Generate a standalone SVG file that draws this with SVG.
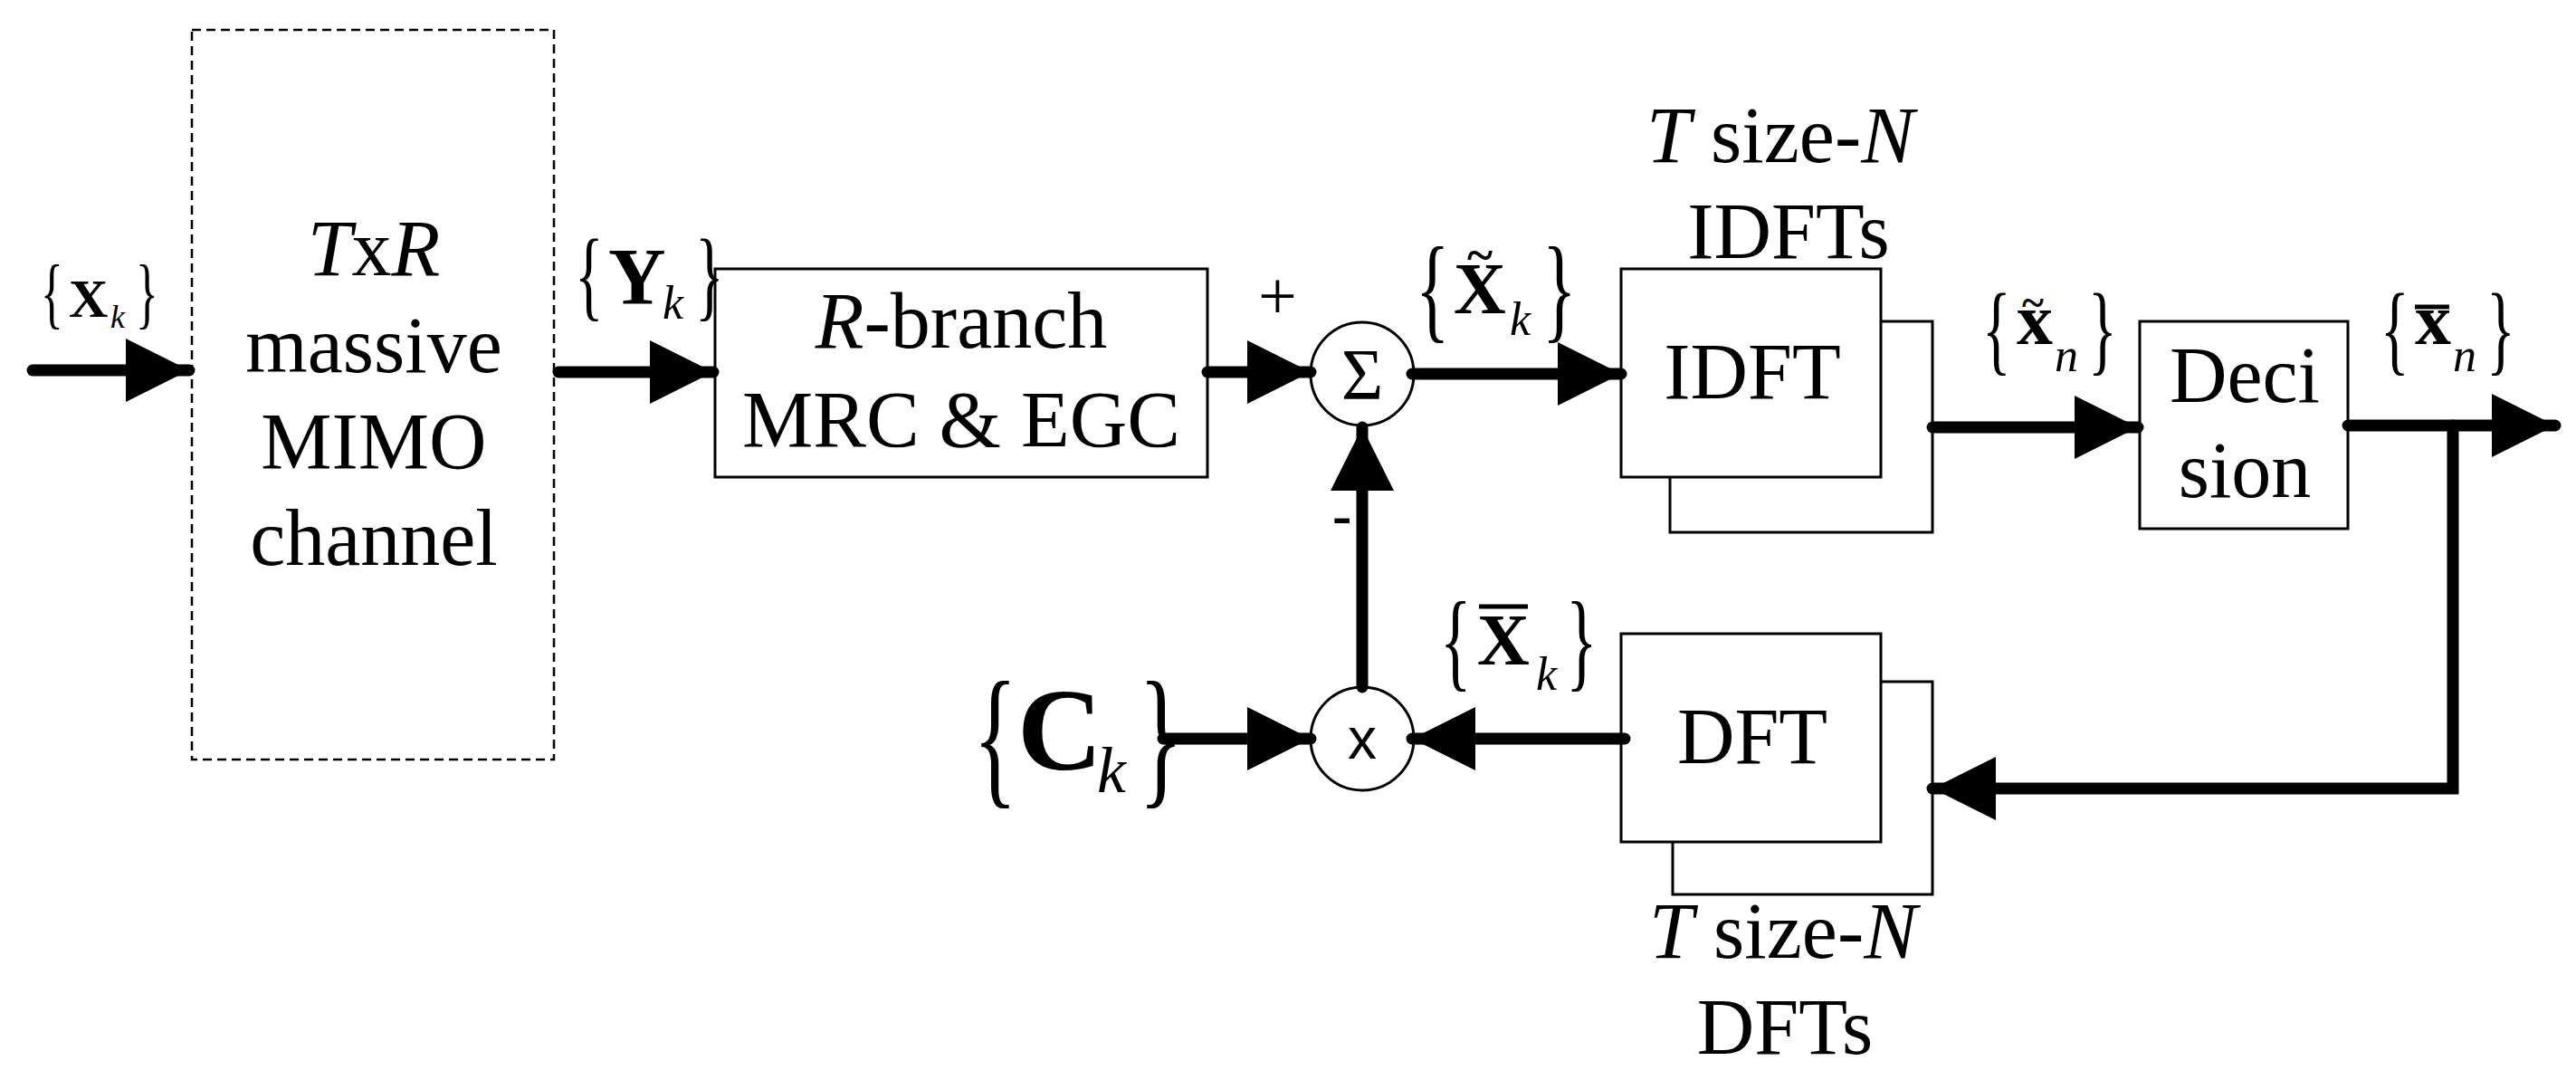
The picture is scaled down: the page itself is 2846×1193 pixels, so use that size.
<svg xmlns="http://www.w3.org/2000/svg" width="2846" height="1193" viewBox="0 0 2846 1193">
<style>
.t{font-family:"Liberation Serif",serif;fill:#000}
.box{fill:#fff;stroke:#000;stroke-width:3}
.w{stroke:#000;stroke-width:13;fill:none;stroke-linecap:round}
.i{font-style:italic}
.b{font-weight:bold}
</style>
<defs>
<marker id="ah" markerUnits="userSpaceOnUse" markerWidth="72" markerHeight="72" refX="70" refY="35" orient="auto"><path d="M0,0 L70,35 L0,70 z" fill="#000"/></marker>
</defs>
<rect width="2846" height="1193" fill="#fff"/>
<g id="channel">
<rect x="212" y="33" width="400" height="806" fill="none" stroke="#000" stroke-width="2.5" stroke-dasharray="10,6"/>
<text class="t" font-size="88" text-anchor="middle" x="413" y="304"><tspan class="i">T</tspan>x<tspan class="i">R</tspan></text>
<text class="t" font-size="88" text-anchor="middle" x="413" y="411">massive</text>
<text class="t" font-size="88" text-anchor="middle" x="413" y="517">MIMO</text>
<text class="t" font-size="88" text-anchor="middle" x="413" y="624">channel</text>
</g>
<g id="combiner">
<rect class="box" x="790" y="297" width="544" height="230"/>
<text class="t" font-size="88" text-anchor="middle" x="1062" y="384"><tspan class="i">R</tspan>-branch</text>
<text class="t" font-size="88" text-anchor="middle" x="1062" y="493">MRC &amp; EGC</text>
</g>
<g id="sum">
<circle cx="1505" cy="413" r="57" fill="#fff" stroke="#000" stroke-width="3"/>
<text class="t" font-size="80" text-anchor="middle" x="1505" y="441">Σ</text>
</g>
<g id="mult">
<circle cx="1505" cy="816" r="57" fill="#fff" stroke="#000" stroke-width="3"/>
<text font-family="Liberation Sans,sans-serif" font-size="64" text-anchor="middle" x="1505" y="838">x</text>
</g>
<g id="idft">
<rect class="box" x="1845" y="355" width="290" height="233"/>
<rect class="box" x="1791" y="297" width="287" height="230"/>
<text class="t" font-size="88" text-anchor="middle" x="1936" y="440">IDFT</text>
<text class="t" font-size="88" text-anchor="middle" x="1967" y="179"><tspan class="i">T</tspan> size-<tspan class="i">N</tspan></text>
<text class="t" font-size="88" text-anchor="middle" x="1976" y="285">IDFTs</text>
</g>
<g id="decision">
<rect class="box" x="2364" y="355" width="230" height="229"/>
<text class="t" font-size="88" text-anchor="middle" x="2480" y="444">Deci</text>
<text class="t" font-size="88" text-anchor="middle" x="2480" y="549">sion</text>
</g>
<g id="dft">
<rect class="box" x="1848" y="753" width="287" height="235"/>
<rect class="box" x="1791" y="700" width="287" height="230"/>
<text class="t" font-size="88" text-anchor="middle" x="1936" y="843">DFT</text>
<text class="t" font-size="88" text-anchor="middle" x="1970" y="1058"><tspan class="i">T</tspan> size-<tspan class="i">N</tspan></text>
<text class="t" font-size="88" text-anchor="middle" x="1972" y="1164">DFTs</text>
</g>
<g id="connectors">
<line class="w" x1="36" y1="409" x2="209" y2="409" marker-end="url(#ah)"/>
<line class="w" x1="617" y1="411" x2="788" y2="411" marker-end="url(#ah)"/>
<line class="w" x1="1334" y1="411" x2="1448" y2="411" marker-end="url(#ah)"/>
<line class="w" x1="1560" y1="413" x2="1791" y2="413" marker-end="url(#ah)"/>
<line class="w" x1="2135" y1="472" x2="2362" y2="472" marker-end="url(#ah)"/>
<line class="w" x1="2594" y1="470" x2="2823" y2="470" marker-end="url(#ah)"/>
<polyline class="w" points="2710,470 2710,871 2135,871" marker-end="url(#ah)"/>
<line class="w" x1="1795" y1="816" x2="1560" y2="816" marker-end="url(#ah)"/>
<line class="w" x1="1505" y1="759" x2="1505" y2="472" marker-end="url(#ah)"/>
<line class="w" x1="1285" y1="816" x2="1448" y2="816" marker-end="url(#ah)"/>
</g>
<g id="labels">
<text class="t" font-size="76" x="1390" y="352">+</text>
<text class="t b" font-size="64" x="1472" y="590">-</text>
<text class="t" font-size="86" transform="translate(45,352) scale(0.6,1)">{</text>
<text class="t b" font-size="60" x="76" y="350">X</text>
<text class="t i" font-size="36" x="122" y="362">k</text>
<text class="t" font-size="86" transform="translate(150,352) scale(0.6,1)">}</text>
<text class="t" font-size="110" transform="translate(635,340) scale(0.6,1)">{</text>
<text class="t b" font-size="88" x="672" y="335">Y</text>
<text class="t i" font-size="52" x="732" y="352">k</text>
<text class="t" font-size="110" transform="translate(768,340) scale(0.6,1)">}</text>
<text class="t" font-size="130" transform="translate(1564,362) scale(0.6,1)">{</text>
<text class="t b" font-size="80" x="1606" y="346">X</text>
<text class="t b" font-size="54" text-anchor="middle" x="1635" y="300">~</text>
<text class="t i" font-size="52" x="1668" y="370">k</text>
<text class="t" font-size="130" transform="translate(1704,362) scale(0.6,1)">}</text>
<text class="t" font-size="110" transform="translate(2190,400) scale(0.6,1)">{</text>
<text class="t b" font-size="80" x="2228" y="380">x</text>
<text class="t b" font-size="46" text-anchor="middle" x="2246" y="350">~</text>
<text class="t i" font-size="52" x="2270" y="410">n</text>
<text class="t" font-size="110" transform="translate(2307,400) scale(0.6,1)">}</text>
<text class="t" font-size="110" transform="translate(2630,400) scale(0.6,1)">{</text>
<line x1="2668" y1="339" x2="2706" y2="339" stroke="#000" stroke-width="5"/>
<text class="t b" font-size="80" x="2668" y="380">x</text>
<text class="t i" font-size="52" x="2710" y="410">n</text>
<text class="t" font-size="110" transform="translate(2747,400) scale(0.6,1)">}</text>
<text class="t" font-size="120" transform="translate(1591,748) scale(0.6,1)">{</text>
<line x1="1634" y1="670" x2="1688" y2="670" stroke="#000" stroke-width="5"/>
<text class="t b" font-size="80" x="1632" y="734">X</text>
<text class="t i" font-size="52" x="1697" y="762">k</text>
<text class="t" font-size="120" transform="translate(1730,748) scale(0.6,1)">}</text>
<text class="t" font-size="170" transform="translate(1075,870) scale(0.6,1)">{</text>
<text class="t b" font-size="130" x="1124" y="850">C</text>
<text class="t i" font-size="72" x="1212" y="875">k</text>
<text class="t" font-size="170" transform="translate(1258,870) scale(0.6,1)">}</text>
</g>
</svg>
